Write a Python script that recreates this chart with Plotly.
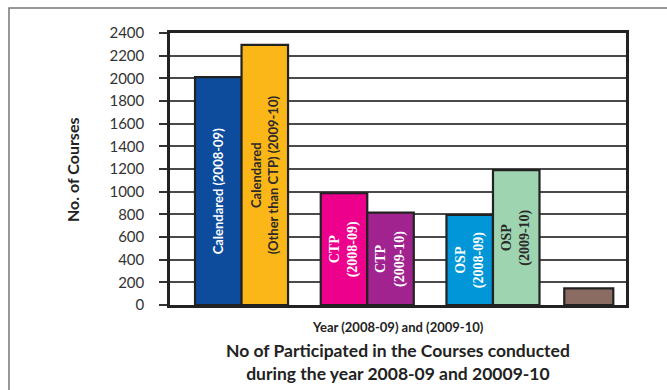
import plotly.graph_objects as go

# ---- data ----
categories = ["Calendared", "CTP", "OSP", "Other"]
values_2008_09 = [2010, 986, 794]
values_2009_10 = [2295, 815, 1190]
other_value = [147]
labels_2008_09 = ["Calendared (2008-09)", "CTP<br>(2008-09)", "OSP<br>(2008-09)"]
labels_2009_10 = ["Calendared<br>(Other than CTP) (2009-10)", "CTP<br>(2009-10)", "OSP<br>(2009-10)"]
y_ticks = list(range(0, 2401, 200))

# ---- styles ----
colors_2008_09 = ["#0d4c9c", "#ec008c", "#0096d8"]
colors_2009_10 = ["#fbb618", "#a0238f", "#9fd4b0"]
other_color = "#8a6c63"
text_col_08 = ["#ffffff", "#ffffff", "#ffffff"]
text_col_09 = ["#2a2a2a", "#ffffff", "#2a2a2a"]
sans = "Lato, 'Open Sans', sans-serif"
serif = "'Liberation Serif', 'DejaVu Serif', serif"
fam_08 = [sans, serif, serif]
fam_09 = [sans, serif, serif]
size_08 = [13, 14, 14]
size_09 = [13, 14, 14]

W, H = 667, 390
ML, MR, MT, MB = 170, 41, 33, 85
bw = 0.37

fig = go.Figure()
fig.add_trace(go.Bar(
    x=categories[:3], y=values_2008_09, offset=-bw, width=bw,
    marker=dict(color=colors_2008_09, line=dict(color="#222222", width=2.2)),
    text=labels_2008_09, textposition="inside", textangle=-90,
    insidetextanchor="middle", constraintext="none",
    textfont=dict(color=text_col_08, size=size_08, family=fam_08, weight="bold"),
    showlegend=False, hoverinfo="skip"))
fig.add_trace(go.Bar(
    x=categories[:3], y=values_2009_10, offset=0, width=bw,
    marker=dict(color=colors_2009_10, line=dict(color="#222222", width=2.2)),
    text=labels_2009_10, textposition="inside", textangle=-90,
    insidetextanchor="middle", constraintext="none",
    textfont=dict(color=text_col_09, size=size_09, family=fam_09, weight="bold"),
    showlegend=False, hoverinfo="skip"))
fig.add_trace(go.Bar(
    x=categories[3:], y=other_value, offset=-0.433, width=0.39,
    marker=dict(color=other_color, line=dict(color="#222222", width=2.2)),
    showlegend=False, hoverinfo="skip"))

pw = W - ML - MR
ph = H - MT - MB


def px_x(X):
    return (X - ML) / pw


def px_y(Y):
    return (H - MB - Y) / ph


fig.update_layout(
    width=W, height=H, margin=dict(l=ML, r=MR, t=MT, b=MB),
    paper_bgcolor="white", plot_bgcolor="white", barmode="overlay",
    xaxis=dict(type="category", categoryorder="array", categoryarray=categories,
               range=[-0.569, 3.058], showticklabels=False, ticks="",
               showgrid=False, showline=True, mirror=True,
               linecolor="#222222", linewidth=2.5, zeroline=False),
    yaxis=dict(range=[0, 2400], tickvals=y_ticks, ticks="outside", ticklen=8,
               tickcolor="#333333", tickwidth=1.5, ticklabelstandoff=12,
               tickfont=dict(family=sans, size=15, color="#333333"),
               showgrid=True, gridcolor="#4a4a4a", gridwidth=1.5,
               zeroline=False, showline=True, mirror=True,
               linecolor="#222222", linewidth=2.5),
    font=dict(family=sans, color="#222222"),
)

# outer gray frame
fig.add_shape(type="rect", xref="paper", yref="paper",
              x0=px_x(9), x1=px_x(W + 20), y0=px_y(H + 20), y1=px_y(8),
              line=dict(color="#777777", width=1.5), fillcolor="rgba(0,0,0,0)",
              layer="below")

fig.add_annotation(text="<b>No. of Courses</b>", textangle=-90,
                   xref="paper", yref="paper", x=px_x(72), y=px_y(170),
                   xanchor="center", yanchor="middle",
                   showarrow=False, font=dict(size=16, family=sans, color="#222222"))
fig.add_annotation(text="<b>Year (2008-09) and (2009-10)</b>",
                   xref="paper", yref="paper", x=0.5, y=px_y(327),
                   xanchor="center", yanchor="middle",
                   showarrow=False, font=dict(size=13, family=sans, color="#222222"))
fig.add_annotation(text="<b>No of Participated in the Courses conducted<br>during the year 2008-09 and 20009-10</b>",
                   xref="paper", yref="paper", x=0.5, y=px_y(362),
                   xanchor="center", yanchor="middle",
                   showarrow=False, font=dict(size=17.5, family=sans, color="#222222"))

fig.write_html("out.html")
